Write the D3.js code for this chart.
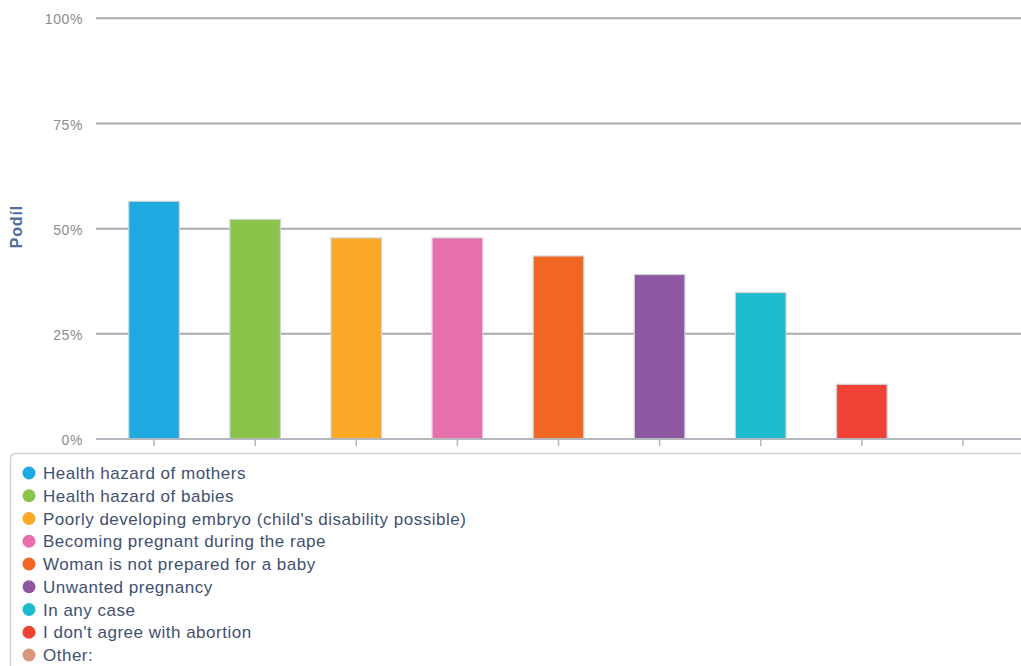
<!DOCTYPE html>
<html>
<head>
<meta charset="utf-8">
<script src="https://cdn.jsdelivr.net/npm/d3@7"></script>
<style>
  html, body { margin: 0; padding: 0; background: #fff; }
  svg { display: block; font-family: "Liberation Sans", Arial, Helvetica, sans-serif; }
</style>
</head>
<body>
<svg id="chart" width="1021" height="666"></svg>
<script>
// Reasons accepted for abortion, share of respondents (%)
const categories = [
  "Health hazard of mothers",
  "Health hazard of babies",
  "Poorly developing embryo (child's disability possible)",
  "Becoming pregnant during the rape",
  "Woman is not prepared for a baby",
  "Unwanted pregnancy",
  "In any case",
  "I don't agree with abortion",
  "Other:"
];
const shares = [56.5, 52.2, 47.8, 47.8, 43.5, 39.1, 34.8, 13.0, 0];
const colors = ["#1fa9e1", "#8bc44a", "#fba826", "#e76fab", "#f16623", "#8e57a2", "#1cbcce", "#ef4136", "#d7977b"];
const yTicks = [0, 25, 50, 75, 100];
const yLabel = "Podíl";

const svg = d3.select("#chart");

const x = d3.scaleBand().domain(categories).range([103.5, 1013.5]).paddingInner(0.5).paddingOuter(0.25);
const y = d3.scaleLinear().domain([0, 100]).range([439, 18.3]);

// horizontal gridlines
svg.append("g")
  .selectAll("line")
  .data(yTicks.filter(d => d > 0))
  .join("line")
  .attr("x1", 96).attr("x2", 1021)
  .attr("y1", d => y(d)).attr("y2", d => y(d))
  .attr("stroke", "#aaaaaa").attr("stroke-width", 2);

// y axis tick labels
const yAxis = d3.axisLeft(y).tickValues(yTicks).tickSize(0).tickPadding(0).tickFormat(d => d + "%");
svg.append("g")
  .attr("transform", "translate(83,0)")
  .call(yAxis)
  .call(g => g.select(".domain").remove())
  .call(g => g.selectAll("text")
    .attr("fill", "#8c8c8c")
    .attr("font-size", 14)
    .attr("letter-spacing", 0.6)
    .attr("dy", "0.4em")
    .style("font-family", "'Liberation Sans', Arial, sans-serif"));

// y axis title
svg.append("text")
  .attr("transform", `translate(22,${y(50) - 2}) rotate(-90)`)
  .attr("text-anchor", "middle")
  .attr("fill", "#4f6f9b")
  .attr("font-size", 16)
  .attr("letter-spacing", 0.8)
  .attr("font-weight", "bold")
  .text(yLabel);

// bars
svg.append("g")
  .selectAll("rect")
  .data(categories.map((c, i) => ({ c, v: shares[i], col: colors[i] })))
  .join("rect")
  .attr("x", d => x(d.c))
  .attr("width", x.bandwidth())
  .attr("y", d => y(d.v))
  .attr("height", d => y(0) - y(d.v))
  .attr("fill", d => d.col)
  .attr("stroke", d => d.v > 0 ? "#cfd2d6" : "none")
  .attr("stroke-width", 1.2);

// x axis baseline and ticks
const xAxis = d3.axisBottom(x).tickSize(7).tickFormat("");
svg.append("g")
  .attr("transform", `translate(0,${y(0)})`)
  .call(xAxis)
  .call(g => g.select(".domain").remove())
  .call(g => g.selectAll(".tick line").attr("stroke", "#b3b7be").attr("stroke-width", 1.5));
svg.append("line")
  .attr("x1", 96).attr("x2", 1021)
  .attr("y1", y(0)).attr("y2", y(0))
  .attr("stroke", "#b3b7be").attr("stroke-width", 2);

// legend frame
svg.append("path")
  .attr("d", "M10.5,666 V459 Q10.5,453.5 16,453.5 H1021")
  .attr("fill", "none")
  .attr("stroke", "#d0d0d0")
  .attr("stroke-width", 1.5);

// legend entries
const legend = svg.append("g")
  .selectAll("g")
  .data(categories.map((c, i) => ({ c, col: colors[i] })))
  .join("g")
  .attr("transform", (d, i) => `translate(0,${473 + i * 22.75})`);
legend.append("circle")
  .attr("cx", 29).attr("cy", 0).attr("r", 6.5)
  .attr("fill", d => d.col);
legend.append("text")
  .attr("x", 43).attr("y", 0).attr("dy", "0.36em")
  .attr("fill", "#3f5170")
  .attr("font-size", 17)
  .attr("letter-spacing", 0.5)
  .text(d => d.c);
</script>
</body>
</html>
